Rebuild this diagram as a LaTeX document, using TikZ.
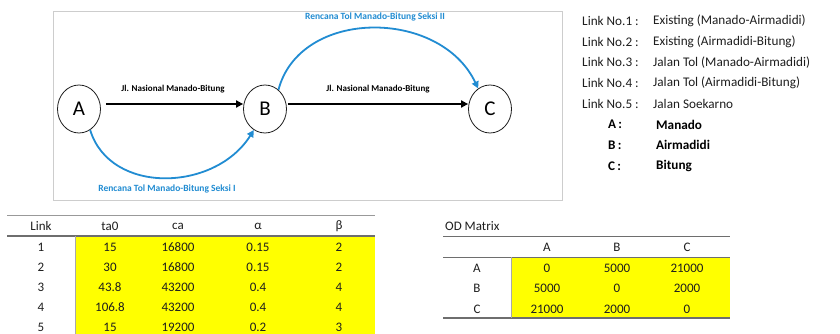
\documentclass[tikz,border=0pt]{standalone}
\usepackage{fontspec}
\setmainfont{Carlito}
\usetikzlibrary{arrows.meta,shapes.geometric}
\definecolor{tolblue}{RGB}{33,140,210}
\definecolor{cellyellow}{RGB}{255,255,0}
\definecolor{boxgray}{RGB}{205,205,205}
\definecolor{rulegray}{RGB}{110,110,110}
\definecolor{inkgray}{RGB}{30,30,30}
\begin{document}
\begin{tikzpicture}[x=1pt,y=-1pt,
  city/.style={draw=inkgray, line width=0.8pt, ellipse, minimum width=43pt, minimum height=48pt, inner sep=0pt, font=\fontsize{21}{24}\selectfont},
  roadlbl/.style={font=\fontsize{9}{10}\selectfont\bfseries, text=black, inner sep=0pt},
  tollbl/.style={font=\fontsize{9.5}{10}\selectfont\bfseries, text=tolblue, inner sep=0pt},
  road/.style={black, line width=2pt, -{Triangle[length=7pt,width=7pt]}},
  toll/.style={tolblue, line width=1.8pt, -{Triangle[length=7pt,width=7pt]}},
  leg/.style={font=\fontsize{13.2}{15}\selectfont, anchor=west, inner sep=0pt, text=inkgray},
  legb/.style={font=\fontsize{13.2}{15}\selectfont\bfseries, anchor=west, inner sep=0pt},
  cell/.style={font=\fontsize{13}{15}\selectfont, inner sep=0pt, text=inkgray},
  thinrule/.style={draw=boxgray, line width=0.8pt},
  darkrule/.style={draw=rulegray, line width=1.2pt}
]
\useasboundingbox (0,0) rectangle (840,334);
\fill[white] (0,0) rectangle (840,334);
% frame of diagram
\draw[draw=boxgray, line width=0.8pt] (53,200) -- (53,11) -- (562,11) -- (562,200) -- cycle;

% nodes
\node[city] (A) at (79,109) {A};
\node[city] (B) at (265,109) {B};
\node[city] (C) at (490,109) {C};

% connectors
\draw[road, shorten <=5pt] ([yshift=5pt]A.east) -- ([yshift=5pt]B.west);
\draw[road, shorten <=1pt] ([yshift=5pt]B.east) -- ([yshift=5pt]C.west);
\draw[toll] (A.-62) .. controls (110,195) and (215,192) .. (B.-118);
\draw[toll] (B.55) .. controls (300,8) and (440,8) .. (C.120);

\node[roadlbl] (lab1) at (173,89) {Jl. Nasional Manado-Bitung};
\node[roadlbl] (lab2) at (378,89) {Jl. Nasional Manado-Bitung};
\node[tollbl] (lab3) at (167,189) {Rencana Tol Manado-Bitung Seksi I};
\node[tollbl] (lab4) at (375,17) {Rencana Tol Manado-Bitung Seksi II};

% legend
\foreach \i/\t in {1/Existing (Manado-Airmadidi),2/Existing (Airmadidi-Bitung),3/Jalan Tol (Manado-Airmadidi),4/Jalan Tol (Airmadidi-Bitung),5/Jalan Soekarno}{
  \node[leg] (lk\i) at (582,{21+20.7*(\i-1)}) {Link No.\i\ :};
  \node[leg] (ld\i) at (653,{21+20.7*(\i-1)}) {\t};
}
\foreach \i/\k/\t in {6/A/Manado,7/B/Airmadidi,8/C/Bitung}{
  \node[legb] (lk\i) at (608,{21+20.7*(\i-1)}) {\k\,:};
  \node[legb] (ld\i) at (656,{21+20.7*(\i-1)}) {\t};
}

% link table
\fill[cellyellow] (75,236) rectangle (375,334);
\draw[thinrule, draw=rulegray!70, line width=0.8pt] (7,215) -- (375,215);
\draw[darkrule] (7,236) -- (375,236);
\draw[draw=rulegray!60, line width=0.5pt] (75,236) -- (75,334);
\foreach \x/\h/\n in {41/Link/h1,110/ta0/h2,178/ca/h3,258/α/h4,339/β/h5}{
  \node[cell] (\n) at (\x,226) {\h};
}
\foreach \r/\a/\b/\c/\d/\e in {1/1/15/16800/0.15/2,2/2/30/16800/0.15/2,3/3/43.8/43200/0.4/4,4/4/106.8/43200/0.4/4,5/5/15/19200/0.2/3}{
  \node[cell] (r\r a) at (41,{247+20*(\r-1)}) {\a};
  \node[cell] (r\r b) at (110,{247+20*(\r-1)}) {\b};
  \node[cell] (r\r c) at (178,{247+20*(\r-1)}) {\c};
  \node[cell] (r\r d) at (258,{247+20*(\r-1)}) {\d};
  \node[cell] (r\r e) at (339,{247+20*(\r-1)}) {\e};
}

% OD matrix
\fill[cellyellow] (511,257) rectangle (730,318);
\node[cell, anchor=west] (odt) at (445,226) {OD Matrix};
\draw[darkrule, line width=1pt] (443,236) -- (730,236);
\draw[darkrule, line width=1pt] (443,257) -- (730,257);
\draw[darkrule] (443,318) -- (730,318);
\draw[draw=rulegray!60, line width=0.5pt] (511,257) -- (511,318);
\foreach \x/\h in {547/A,617/B,687/C}{
  \node[cell] (oh\h) at (\x,247) {\h};
}
\foreach \r/\k/\a/\b/\c in {1/A/0/5000/21000,2/B/5000/0/2000,3/C/21000/2000/0}{
  \node[cell] (o\r k) at (477,{268+20.5*(\r-1)}) {\k};
  \node[cell] (o\r a) at (547,{268+20.5*(\r-1)}) {\a};
  \node[cell] (o\r b) at (617,{268+20.5*(\r-1)}) {\b};
  \node[cell] (o\r c) at (687,{268+20.5*(\r-1)}) {\c};
}
\end{tikzpicture}
\end{document}
